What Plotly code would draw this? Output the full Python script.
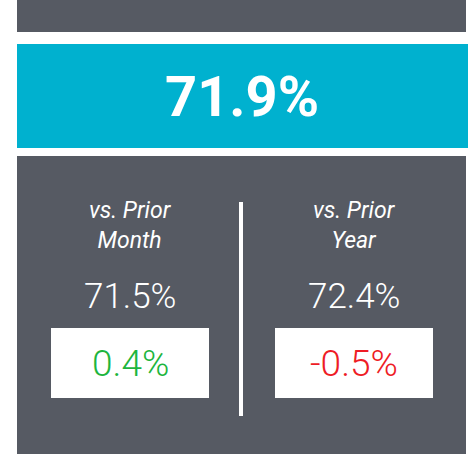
import plotly.graph_objects as go

# KPI values
current_value = 71.9
compare_labels = ["vs. Prior<br>Month", "vs. Prior<br>Year"]
prior_values = [71.5, 72.4]
delta_values = [0.4, -0.5]

W, H = 468, 454
DARK = "#565a63"
CYAN = "#00b1cf"
GREEN = "#1db53d"
RED = "#ee1c25"

fig = go.Figure()

shapes = [
    dict(type="rect", x0=17, x1=466, y0=0, y1=32, fillcolor=DARK, line_width=0, layer="below"),
    dict(type="rect", x0=17, x1=468, y0=44, y1=148, fillcolor=CYAN, line_width=0, layer="below"),
    dict(type="rect", x0=17, x1=466, y0=156, y1=454, fillcolor=DARK, line_width=0, layer="below"),
    dict(type="line", x0=241, x1=241, y0=202, y1=416, line=dict(color="white", width=4)),
]

annotations = [
    dict(x=242, y=97, text=f"{current_value:.1f}%", showarrow=False,
         font=dict(family="Roboto", size=56, color="white", weight="bold"),
         xanchor="center", yanchor="middle"),
]

col_x = [130, 354]
for i, cx in enumerate(col_x):
    shapes.append(dict(type="rect", x0=cx - 79, x1=cx + 79, y0=328, y1=398,
                       fillcolor="white", line_width=0))
    annotations.append(dict(x=cx, y=225, text=compare_labels[i], showarrow=False,
                            font=dict(family="Roboto", size=23, color="white", style="italic"),
                            xanchor="center", yanchor="middle"))
    annotations.append(dict(x=cx, y=296, text=f"{prior_values[i]:.1f}%", showarrow=False,
                            font=dict(family="Roboto", size=35, color="white", weight=300),
                            xanchor="center", yanchor="middle"))
    d = delta_values[i]
    annotations.append(dict(x=cx, y=363, text=f"{d:.1f}%", showarrow=False,
                            font=dict(family="Roboto", size=37, color=GREEN if d >= 0 else RED,
                                      weight=300),
                            xanchor="center", yanchor="middle"))

fig.update_layout(
    width=W, height=H,
    margin=dict(l=0, r=0, t=0, b=0),
    paper_bgcolor="white", plot_bgcolor="white",
    shapes=shapes, annotations=annotations,
    xaxis=dict(range=[0, W], visible=False, fixedrange=True),
    yaxis=dict(range=[H, 0], visible=False, fixedrange=True),
    showlegend=False,
)

fig.write_html(
    "out.html",
    config={"displayModeBar": False},
    post_script="document.body.style.margin='0';document.body.style.overflow='hidden';",
)
